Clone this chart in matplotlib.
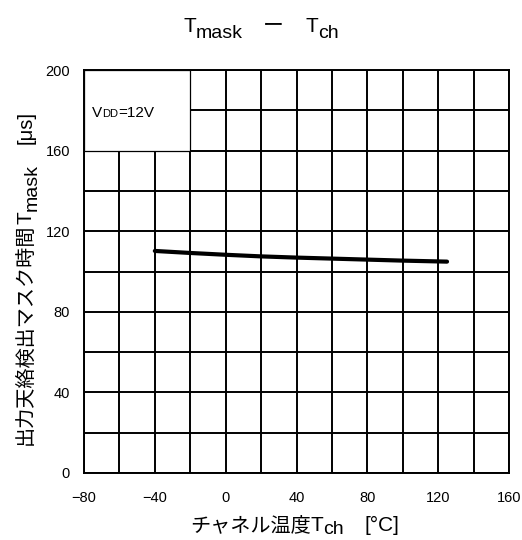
import matplotlib
matplotlib.use('Agg')
import matplotlib.pyplot as plt
from matplotlib.patches import Rectangle

plt.rcParams['font.family'] = ['Liberation Sans', 'Noto Sans CJK JP']

# channel temperature [degC] and output short-to-battery mask time [us]
temps = [-40, -20, 0, 20, 40, 60, 80, 100, 125]
tmask = [110.2, 109.2, 108.3, 107.5, 106.9, 106.4, 105.9, 105.4, 104.9]

xticks = [-80, -40, 0, 40, 80, 120, 160]
yticks = [0, 40, 80, 120, 160, 200]
xgrid = list(range(-80, 161, 20))
ygrid = list(range(0, 201, 20))

W, H = 522, 540
fig = plt.figure(figsize=(W / 100, H / 100), dpi=100)
ax = fig.add_axes([84 / W, 1 - 473 / H, 425 / W, 403 / H])

ax.set_xlim(-80, 160)
ax.set_ylim(0, 200)
ax.set_xticks(xgrid)
ax.set_yticks(ygrid)
ax.grid(True, color='black', linewidth=1.4)
ax.set_xticklabels([str(v).replace('-', '\u2212') if v in xticks else '' for v in xgrid])
ax.set_yticklabels([str(v) if v in yticks else '' for v in ygrid])
ax.tick_params(length=0, labelsize=10.5)
ax.tick_params(axis='x', pad=13)
ax.tick_params(axis='y', pad=10)
for s in ax.spines.values():
    s.set_linewidth(1.4)

ax.plot(temps, tmask, color='black', linewidth=3, solid_capstyle='round', zorder=3)

# condition box
ax.add_patch(Rectangle((-80, 160), 60, 40, facecolor='white', edgecolor='black',
                       linewidth=0.9, zorder=4, clip_on=False))

renderer = fig.canvas.get_renderer()


def pieces(items, x0, y0, rotation=0):
    # items: (text, size, shift down in px, gap before in px)
    pos = 0
    for s, size, dy, gap in items:
        pos += gap
        if rotation == 0:
            t = fig.text((x0 + pos) / W, (y0 - dy) / H, s, fontsize=size,
                         ha='left', va='baseline', zorder=5)
        else:
            t = fig.text((x0 + dy) / W, (y0 + pos) / H, s, fontsize=size, rotation=90,
                         rotation_mode='anchor', ha='left', va='baseline', zorder=5)
        bb = t.get_window_extent(renderer)
        pos += bb.height if rotation else bb.width


pieces([('V', 11, 0, 0), ('DD', 8, 0, 0), ('=12V', 11, 0, 0)], 92, H - 117)

pieces([('T', 15, 0, 0), ('mask', 14, 6, 0), ('ー', 15, 0, 20), ('T', 15, 0, 22),
        ('ch', 14, 6, 0)], 183, H - 32)

pieces([('チャネル温度', 14.5, 0, 0), ('T', 15, 0, 0), ('ch', 14, 3, 0),
        ('[°C]', 15, 0, 20)], 190, 9)

pieces([('出力天絡検出マスク時間', 14.5, 0, 0), ('T', 15, 0, 0), ('mask', 14, 5, 0),
        ('[μs]', 14.5, 0, 20)], 32, H - 445, rotation=90)

fig.savefig('out.png', dpi=100)
